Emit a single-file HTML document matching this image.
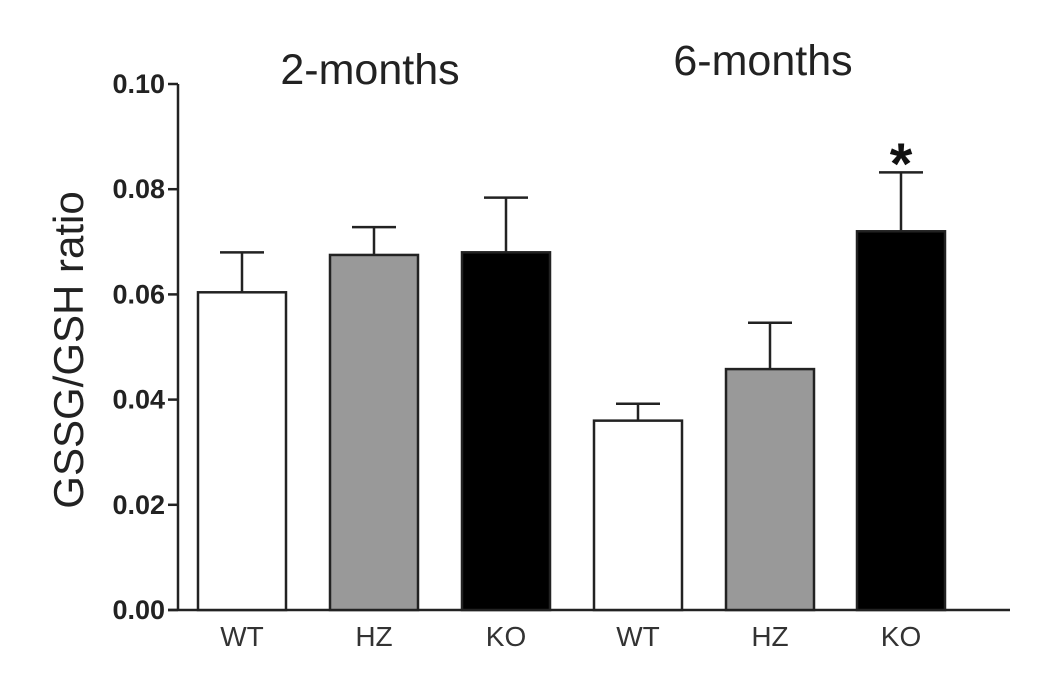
<!DOCTYPE html>
<html><head><meta charset="utf-8"><style>
body{margin:0;background:#fff}
svg text{font-family:"Liberation Sans",Arial,sans-serif}
</style></head><body>
<svg id="chart" width="1063" height="684" viewBox="0 0 1063 684">
<g id="axes"></g>
<g id="bars"></g>
<text x="370" y="84" font-size="43" text-anchor="middle" fill="#222">2-months</text>
<text x="763" y="75" font-size="43" text-anchor="middle" fill="#222">6-months</text>
<text x="901" y="184" font-size="58" font-weight="bold" text-anchor="middle" fill="#111">*</text>
<text transform="translate(83,350) rotate(-90)" font-size="42" text-anchor="middle" fill="#222">GSSG/GSH ratio</text>
</svg>
<script>
const categories=["WT","HZ","KO","WT","HZ","KO"];
const values=[0.0604,0.0675,0.068,0.036,0.0458,0.072];
const errors=[0.0076,0.0053,0.0104,0.0032,0.0088,0.0112];
const fills=["#fff","#999","#000","#fff","#999","#000"];
const yTicks=[0,0.02,0.04,0.06,0.08,0.10];
const NS="http://www.w3.org/2000/svg";
const x0=178,y0=610,yTop=84,ymax=0.10;
const y=v=>y0-(v/ymax)*(y0-yTop);
const barLeft=[198,330,462,594,726,857];
const bw=88;
function mk(t,a,p){const e=document.createElementNS(NS,t);for(const k in a)e.setAttribute(k,a[k]);p.appendChild(e);return e;}
const ax=document.getElementById('axes'),bg=document.getElementById('bars');
categories.forEach((c,i)=>{
  const l=barLeft[i],cx=l+bw/2,top=y(values[i]),et=y(values[i]+errors[i]);
  const eb=mk('line',{x1:cx,x2:cx,y1:top,y2:et,stroke:'#222','stroke-width':2.5},bg);
  
  
  const cap=mk('line',{x1:cx-22,x2:cx+22,y1:et,y2:et,stroke:'#222','stroke-width':2.5},bg);
  
  
  const r=mk('rect',{x:l,y:top,width:bw,height:y0-top,fill:fills[i],stroke:'#222','stroke-width':2.5},bg);
  
  
  const t=mk('text',{x:cx,y:646,'font-size':28,'text-anchor':'middle',fill:'#333'},ax);
  t.textContent=c;
  
  
});
const ya=mk('line',{x1:x0,x2:x0,y1:yTop,y2:y0,stroke:'#222','stroke-width':2.5},ax);


const xa=mk('line',{x1:x0-10,x2:1010,y1:y0,y2:y0,stroke:'#222','stroke-width':2.5},ax);


yTicks.forEach(v=>{
  const tk=mk('line',{x1:x0-10,x2:x0,y1:y(v),y2:y(v),stroke:'#222','stroke-width':2.5},ax);
  
  
  const t=mk('text',{x:x0-13,y:y(v)+9,'font-size':27,'font-weight':'bold','text-anchor':'end',fill:'#222'},ax);
  t.textContent=v.toFixed(2);
  
  
});
</script>
</body></html>
